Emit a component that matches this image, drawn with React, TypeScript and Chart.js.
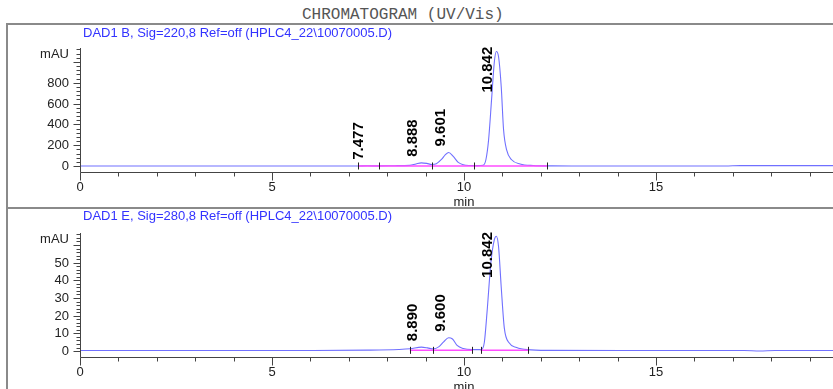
import React, { useEffect, useRef } from 'react';
import { Chart, registerables } from 'chart.js';

Chart.register(...registerables);

// ---------- Data: signal B (220 nm) ----------
const timesB = [0, 2, 4, 6, 7.0, 7.25, 7.477, 7.78, 8.2, 8.59, 8.75, 8.888, 9.03, 9.16, 9.28, 9.42, 9.51, 9.601, 9.72, 9.85, 9.98, 10.15, 10.35, 10.5, 10.57, 10.64, 10.72, 10.79, 10.842, 10.9, 10.97, 11.03, 11.11, 11.24, 11.46, 11.8, 12.3, 13, 15, 16.8, 17.2, 20];
const signalB = [0, 0, 0, 0, 0, 0.5, 2, 1, 3, 6, 20, 30, 25, 15, 22, 65, 106, 130, 92, 35, 12, 5, 4, 8, 60, 250, 650, 1000, 1100, 1050, 760, 350, 155, 60, 20, 5, 1, 0, 0, 0, 4, 4];
const peakTimesB = [7.477, 8.888, 9.601, 10.842];
const peakLabelsB = ['7.477', '8.888', '9.601', '10.842'];
const boundsB = [7.25, 7.78, 9.17, 10.27, 12.17];
const baseStartB = [7.25];
const baseEndB = [12.17];
const yLabelsB = [0, 200, 400, 600, 800];

// ---------- Data: signal E (280 nm) ----------
const timesE = [0, 3, 6, 7.5, 8.3, 8.6, 8.89, 9.05, 9.2, 9.35, 9.47, 9.6, 9.7, 9.82, 9.98, 10.2, 10.45, 10.53, 10.6, 10.7, 10.79, 10.842, 10.9, 10.97, 11.05, 11.18, 11.37, 11.65, 12.2, 15, 17.3, 17.7, 18.1, 20];
const signalE = [0.3, 0.3, 0.3, 0.5, 0.9, 1.3, 2.2, 1.8, 1.2, 2.5, 5.2, 7.5, 6.8, 3.2, 1.4, 0.8, 0.8, 5, 22, 50, 63, 65, 59, 36, 13, 4.5, 2, 0.8, 0.4, 0.3, 0.3, 0.0, 0.3, 0.3];
const peakTimesE = [8.89, 9.6, 10.842];
const peakLabelsE = ['8.890', '9.600', '10.842'];
const boundsE = [8.59, 9.18, 10.22, 10.43, 11.67];
const baseStartE = [8.59, 10.43];
const baseEndE = [10.22, 11.67];
const yLabelsE = [0, 10, 20, 30, 40, 50];

const xLabels = [0, 5, 10, 15, 20];

type PanelCfg = {
  top: number;
  height: number;
  subtitle: string;
  subtitleY: number;
  padTop: number;
  padBottom: number;
  yMin: number;
  yMax: number;
  yMajor: number;
  yMinor: number;
  yLabels: number[];
  times: number[];
  signal: number[];
  peakTimes: number[];
  peakLabels: string[];
  bounds: number[];
  baseStart: number[];
  baseEnd: number[];
  baseLevel: number;
};

const AXIS = '#444';
const TEXT = '#222';
const SANS = '"Liberation Sans", Arial, sans-serif';

function Panel({ cfg }: { cfg: PanelCfg }) {
  const ref = useRef<HTMLCanvasElement | null>(null);
  useEffect(() => {
    const canvas = ref.current;
    if (!canvas) return;
    const trace = cfg.times.map((t, i) => ({ x: t, y: cfg.signal[i] }));
    const pink: any[] = [];
    cfg.baseStart.forEach((s, i) => {
      pink.push({ x: s, y: cfg.baseLevel });
      pink.push({ x: cfg.baseEnd[i], y: cfg.baseLevel });
      pink.push({ x: cfg.baseEnd[i] + 0.001, y: null });
    });

    const decor = {
      id: 'decor',
      afterDatasetsDraw(chart: any) {
        const ctx = chart.ctx as CanvasRenderingContext2D;
        const ca = chart.chartArea;
        const xs = chart.scales.x;
        const ys = chart.scales.y;
        ctx.save();
        // subtitle
        ctx.font = `13px ${SANS}`;
        ctx.fillStyle = '#3333ff';
        ctx.textAlign = 'left';
        ctx.textBaseline = 'middle';
        ctx.fillText(cfg.subtitle, 83, cfg.subtitleY);

        ctx.strokeStyle = AXIS;
        ctx.lineWidth = 1;
        const ax = Math.round(ca.left) + 0.5;
        const ay = Math.round(ca.bottom) + 0.5;
        // y axis line
        ctx.beginPath();
        ctx.moveTo(ax, Math.round(ca.top));
        ctx.lineTo(ax, ay);
        ctx.stroke();
        // y ticks
        ctx.beginPath();
        for (let v = 0; v <= cfg.yMax + 1e-9; v += cfg.yMinor) {
          const py = Math.round(ys.getPixelForValue(v)) + 0.5;
          const major = Math.abs(v / cfg.yMajor - Math.round(v / cfg.yMajor)) < 1e-6;
          ctx.moveTo(ax - (major ? 7 : 4), py);
          ctx.lineTo(ax, py);
        }
        ctx.stroke();
        ctx.fillStyle = TEXT;
        ctx.font = `13px ${SANS}`;
        ctx.textAlign = 'right';
        ctx.textBaseline = 'middle';
        cfg.yLabels.forEach((v) => {
          ctx.fillText(String(v), 69, ys.getPixelForValue(v) + 0.5);
        });
        ctx.fillText('mAU', 69, ca.top + 6.5);

        // x axis
        ctx.beginPath();
        ctx.moveTo(ax, ay);
        ctx.lineTo(ca.right, ay);
        ctx.stroke();
        ctx.beginPath();
        for (let t = 0; t <= 20; t += 1) {
          const px = Math.round(xs.getPixelForValue(t)) + 0.5;
          const major = t % 5 === 0;
          ctx.moveTo(px, ay);
          ctx.lineTo(px, ay + (major ? 8 : 4));
        }
        ctx.stroke();
        ctx.textAlign = 'center';
        xLabels.forEach((t) => {
          ctx.fillText(String(t), xs.getPixelForValue(t), ay + 15);
        });
        ctx.fillText('min', xs.getPixelForValue(10), ay + 30);

        // integration boundary marks
        ctx.strokeStyle = '#222';
        ctx.beginPath();
        const by = ys.getPixelForValue(cfg.baseLevel);
        cfg.bounds.forEach((t) => {
          const px = Math.round(xs.getPixelForValue(t)) + 0.5;
          ctx.moveTo(px, by - 3.5);
          ctx.lineTo(px, by + 3.5);
        });
        ctx.stroke();

        // peak labels
        ctx.font = `bold 15px ${SANS}`;
        ctx.fillStyle = '#000';
        ctx.textAlign = 'left';
        ctx.textBaseline = 'alphabetic';
        cfg.peakTimes.forEach((t, i) => {
          let k = 0;
          for (let j = 0; j < cfg.times.length; j++) {
            if (Math.abs(cfg.times[j] - t) < Math.abs(cfg.times[k] - t)) k = j;
          }
          const px = xs.getPixelForValue(t);
          const py = ys.getPixelForValue(cfg.signal[k]);
          const label = cfg.peakLabels[i];
          const w = ctx.measureText(label).width;
          const anchorY = Math.max(py - 6, ca.top - 1 + w);
          ctx.save();
          ctx.translate(px - 4, anchorY);
          ctx.rotate(-Math.PI / 2);
          ctx.fillText(label, 0, 0);
          ctx.restore();
        });
        ctx.restore();
      },
    };

    const chart = new Chart(canvas, {
      type: 'line',
      data: {
        datasets: [
          {
            data: pink,
            borderColor: '#ff4dff',
            borderWidth: 1.5,
            pointRadius: 0,
            spanGaps: false,
            tension: 0,
          },
          {
            data: trace,
            borderColor: '#7070ff',
            borderWidth: 1.1,
            pointRadius: 0,
            cubicInterpolationMode: 'monotone',
          },
        ],
      } as any,
      options: {
        responsive: false,
        animation: false,
        events: [],
        layout: { padding: { left: 80, right: 12, top: cfg.padTop, bottom: cfg.padBottom } },
        plugins: { legend: { display: false }, tooltip: { enabled: false }, title: { display: false } },
        scales: {
          x: { type: 'linear', min: 0, max: 20, display: false },
          y: { type: 'linear', min: cfg.yMin, max: cfg.yMax, display: false },
        },
      } as any,
      plugins: [decor],
    });
    return () => chart.destroy();
  }, [cfg]);

  return (
    <canvas
      ref={ref}
      width={860}
      height={cfg.height}
      style={{ position: 'absolute', left: 0, top: cfg.top, width: 860, height: cfg.height }}
    />
  );
}

const panelB: PanelCfg = {
  top: 24,
  height: 183,
  subtitle: 'DAD1 B, Sig=220,8 Ref=off (HPLC4_22\\10070005.D)',
  subtitleY: 9,
  padTop: 23.7,
  padBottom: 34.7,
  yMin: -60.6,
  yMax: 1137,
  yMajor: 200,
  yMinor: 40,
  yLabels: yLabelsB,
  times: timesB,
  signal: signalB,
  peakTimes: peakTimesB,
  peakLabels: peakLabelsB,
  bounds: boundsB,
  baseStart: baseStartB,
  baseEnd: baseEndB,
  baseLevel: 0,
};

const panelE: PanelCfg = {
  top: 209,
  height: 180,
  subtitle: 'DAD1 E, Sig=280,8 Ref=off (HPLC4_22\\10070005.D)',
  subtitleY: 7,
  padTop: 24,
  padBottom: 32.3,
  yMin: -3.2,
  yMax: 66.8,
  yMajor: 10,
  yMinor: 2,
  yLabels: yLabelsE,
  times: timesE,
  signal: signalE,
  peakTimes: peakTimesE,
  peakLabels: peakLabelsE,
  bounds: boundsE,
  baseStart: baseStartE,
  baseEnd: baseEndE,
  baseLevel: 0.4,
};

export default function App() {
  return (
    <div
      style={{
        position: 'absolute',
        left: 0,
        top: 0,
        width: 833,
        height: 389,
        overflow: 'hidden',
        background: '#fff',
      }}
    >
      <div
        style={{
          position: 'absolute',
          left: 302,
          top: 6,
          font: '16px "Liberation Mono", monospace',
          lineHeight: '18px',
          color: '#555',
          whiteSpace: 'nowrap',
        }}
      >
        CHROMATOGRAM (UV/Vis)
      </div>
      <div
        style={{
          position: 'absolute',
          left: 6,
          top: 23,
          width: 900,
          height: 186,
          border: '2px solid #8a8a8a',
          boxSizing: 'border-box',
        }}
      />
      <div
        style={{
          position: 'absolute',
          left: 6,
          top: 207,
          width: 900,
          height: 200,
          border: '2px solid #8a8a8a',
          boxSizing: 'border-box',
        }}
      />
      <Panel cfg={panelB} />
      <Panel cfg={panelE} />
    </div>
  );
}
